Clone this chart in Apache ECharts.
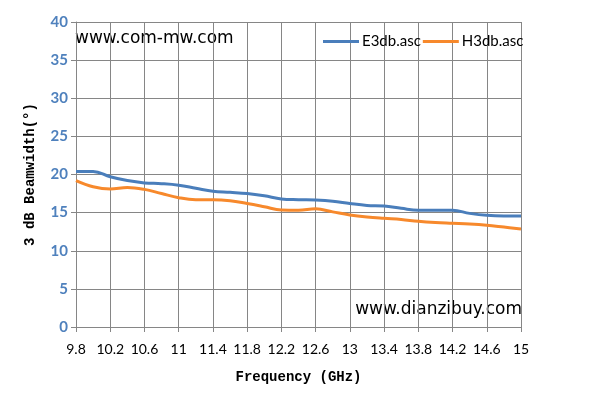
<!DOCTYPE html>
<html>
<head>
<meta charset="utf-8">
<script src="https://cdn.jsdelivr.net/npm/echarts@6/dist/echarts.min.js"></script>
<style>html,body{margin:0;padding:0;background:#fff}#c{width:594px;height:410px}</style>
</head>
<body>
<div id="c"></div>
<script>
var freqs = ['9.8','10','10.2','10.4','10.6','10.8','11','11.2','11.4','11.6','11.8','12','12.2','12.4','12.6','12.8','13','13.2','13.4','13.6','13.8','14','14.2','14.4','14.6','14.8','15'];
var e3db = [20.4,20.4,19.7,19.2,18.9,18.8,18.6,18.2,17.8,17.66,17.5,17.2,16.8,16.7,16.65,16.5,16.2,15.95,15.87,15.56,15.3,15.3,15.3,14.9,14.64,14.56,14.56];
var h3db = [19.2,18.4,18.1,18.3,18.05,17.5,16.96,16.7,16.7,16.57,16.2,15.78,15.34,15.3,15.5,15.1,14.7,14.43,14.25,14.1,13.86,13.7,13.6,13.5,13.34,13.1,12.85];
var yTicks = [0,5,10,15,20,25,30,35,40];

var chart = echarts.init(document.getElementById('c'));
var gridColor = '#868686';
chart.setOption({
  animation: false,
  grid: {left: 76, right: 73, top: 22, bottom: 83},
  legend: {
    top: 29, left: 318,
    itemWidth: 36, itemHeight: 3, itemGap: 2,
    icon: 'rect',
    textStyle: {fontFamily: 'Lato, "Open Sans", sans-serif', fontSize: 15, color: '#000', padding: [0,0,0,-2]},
    data: ['E3db.asc', 'H3db.asc']
  },
  xAxis: {
    type: 'category',
    data: freqs,
    boundaryGap: false,
    name: 'Frequency (GHz)',
    nameLocation: 'middle',
    nameGap: 43,
    nameTextStyle: {fontFamily: '"Liberation Mono", monospace', fontSize: 14, color: '#000', fontWeight: 'bold'},
    axisLine: {lineStyle: {color: gridColor, width: 1}},
    axisTick: {show: true, interval: 1, length: 5, lineStyle: {color: gridColor}},
    axisLabel: {interval: 1, margin: 15, fontFamily: 'Lato, "Open Sans", sans-serif', fontSize: 14, color: '#000'},
    splitLine: {show: true, interval: 1, lineStyle: {color: gridColor, width: 1}}
  },
  yAxis: {
    type: 'value',
    min: 0, max: 40, interval: 5,
    name: '3 dB Beamwidth(°)',
    nameLocation: 'middle',
    nameGap: 39,
    nameRotate: 90,
    nameTextStyle: {fontFamily: '"Liberation Mono", monospace', fontSize: 14, color: '#000', fontWeight: 'bold'},
    axisLine: {show: true, lineStyle: {color: gridColor, width: 1}},
    axisTick: {show: true, length: 5, lineStyle: {color: gridColor}},
    axisLabel: {margin: 8, fontFamily: 'Lato, "Open Sans", sans-serif', fontSize: 15, fontWeight: 'bold', color: '#4F81BD',
      formatter: function (v) { return yTicks.indexOf(v) >= 0 ? String(v) : ''; }},
    splitLine: {show: true, lineStyle: {color: gridColor, width: 1}}
  },
  series: [
    {name: 'E3db.asc', type: 'line', data: e3db, smooth: 0.4, symbol: 'none', lineStyle: {color: '#4A7EBB', width: 3}, itemStyle: {color: '#4A7EBB'}},
    {name: 'H3db.asc', type: 'line', data: h3db, smooth: 0.4, symbol: 'none', lineStyle: {color: '#F7892C', width: 3}, itemStyle: {color: '#F7892C'}}
  ],
  graphic: [
    {type: 'text', left: 75, top: 30, style: {text: 'www.com-mw.com', fontFamily: '"DejaVu Sans", sans-serif', fontSize: 17, fill: '#000', shadowColor: 'rgba(0,0,0,0.45)', shadowBlur: 3, shadowOffsetX: 1, shadowOffsetY: 1}},
    {type: 'text', right: 72, top: 301, style: {text: 'www.dianzibuy.com', fontFamily: '"DejaVu Sans", sans-serif', fontSize: 17, fill: '#000', shadowColor: 'rgba(0,0,0,0.45)', shadowBlur: 3, shadowOffsetX: 1, shadowOffsetY: 1}}
  ]
});
</script>
</body>
</html>
